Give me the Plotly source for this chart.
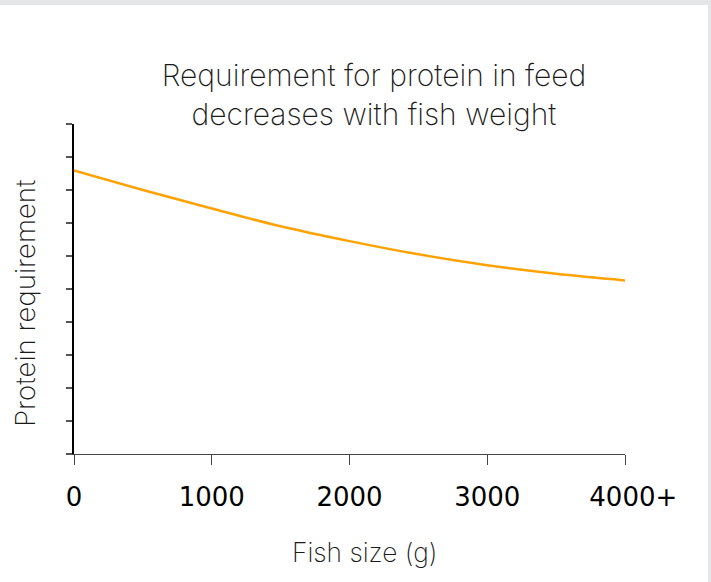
import plotly.graph_objects as go

# Data
fish_size_g = [0, 500, 1000, 1500, 2000, 2500, 3000, 3500, 4000]
protein_req = [8.59, 8.00, 7.44, 6.90, 6.45, 6.05, 5.72, 5.46, 5.26]
x_tick_vals = [0, 1000, 2000, 3000, 4000]
x_tick_text = ["0", "1000", "2000", "3000", "&nbsp;&nbsp;4000+"]
y_tick_vals = [0, 1, 2, 3, 4, 5, 6, 7, 8, 9, 10]

W, H = 711, 582
ML, MR, MT, MB = 73.5, 85.6, 124, 127.7
PW = W - ML - MR
PH = H - MT - MB

def px_x(px):
    return (px - ML) / PW

def px_y(py):
    return (H - MB - py) / PH

light = dict(family="Inter", color="#1a1a1a", weight=200)

fig = go.Figure()
fig.add_trace(go.Scatter(
    x=fish_size_g, y=protein_req, mode="lines",
    line=dict(color="#ffa200", width=2.5, shape="spline"),
    showlegend=False, hoverinfo="skip",
))

fig.update_layout(
    width=W, height=H,
    margin=dict(l=ML, r=MR, t=MT, b=MB),
    paper_bgcolor="white", plot_bgcolor="white",
    title=dict(
        text="Requirement for protein in feed<br>decreases with fish weight",
        x=374 / W, xanchor="center", xref="container",
        y=1 - 85.5 / H, yanchor="middle", yref="container",
        font=dict(size=30, **light),
    ),
    xaxis=dict(
        range=[0, 4000], tickvals=x_tick_vals, ticktext=x_tick_text,
        showline=True, linecolor="#444444", linewidth=1.2,
        ticks="outside", ticklen=10, tickcolor="#444444", tickwidth=1,
        tickfont=dict(family="DejaVu Sans", size=26, color="black"),
        ticklabelstandoff=10,
        showgrid=False, zeroline=False, fixedrange=True,
    ),
    yaxis=dict(
        range=[0, 10], tickvals=y_tick_vals, showticklabels=False,
        showline=True, linecolor="black", linewidth=1.5,
        ticks="outside", ticklen=6, tickcolor="#555555", tickwidth=1.5,
        showgrid=False, zeroline=False, fixedrange=True,
    ),
    annotations=[
        dict(text="Fish size (g)", xref="paper", yref="paper",
             x=px_x(364.5), y=px_y(553), xanchor="center", yanchor="middle",
             showarrow=False, font=dict(size=26.3, **light)),
        dict(text="Protein requirement", xref="paper", yref="paper",
             x=px_x(25), y=px_y(303.5), xanchor="center", yanchor="middle",
             textangle=-90, showarrow=False, font=dict(size=27.6, **light)),
    ],
    shapes=[
        dict(type="rect", xref="paper", yref="paper", layer="below",
             x0=px_x(-5), x1=px_x(W + 5), y0=px_y(5), y1=px_y(-5),
             fillcolor="#e5e6e8", line=dict(width=0)),
        dict(type="rect", xref="paper", yref="paper", layer="below",
             x0=px_x(708.5), x1=px_x(W + 5), y0=px_y(H + 5), y1=px_y(-5),
             fillcolor="#e5e6e8", line=dict(width=0)),
    ],
)

fig.write_html("out.html", config={"displayModeBar": False},
               post_script="document.body.style.margin='0';")
